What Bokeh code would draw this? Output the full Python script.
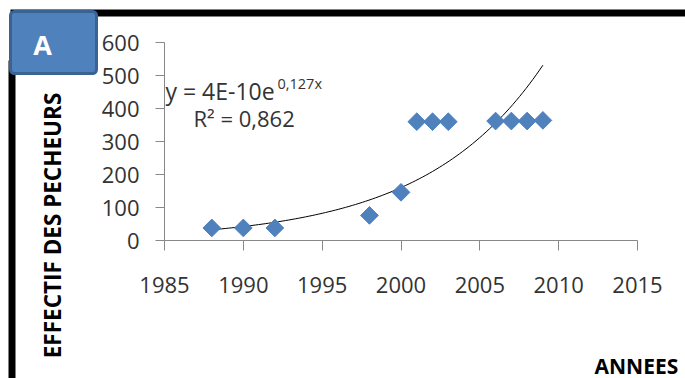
import numpy as np
from bokeh.plotting import figure
from bokeh.models import Range1d, FixedTicker, Label, BoxAnnotation, LinearAxis
from bokeh.embed import file_html
from bokeh.resources import INLINE

# ---- data ----
years = [1988, 1990, 1992, 1998, 2000, 2001, 2002, 2003, 2006, 2007, 2008, 2009]
effectif = [38, 38, 38, 76, 146, 360, 360, 360, 362, 362, 362, 364]
x_ticks = [1985, 1990, 1995, 2000, 2005, 2010, 2015]
y_ticks = [0, 100, 200, 300, 400, 500, 600]
x_tick_labels = ["1985", "1990", "1995", "2000", "2005", "2010", "2015"]
y_tick_labels = ["0", "100", "200", "300", "400", "500", "600"]
eq_main = "y = 4E-10e"
eq_sup = "0,127x"
eq_r2 = "R² = 0,862"
panel_letter = "A"
x_title = "ANNEES"
y_title = "EFFECTIF DES PECHEURS"

# exponential trend (least squares on log values)
slope, icpt = np.polyfit(np.array(years, float) - 2000, np.log(effectif), 1)
trend_x = np.linspace(min(years), max(years), 100)
trend_y = np.exp(icpt + slope * (trend_x - 2000))

# ---- layout: frame = whole canvas; axes drawn at fixed locations ----
W, H = 685, 378
AX_L, AX_R = 164, 637      # pixel positions of 1985 and 2015
AX_B, AX_T = 240, 42       # pixel positions of 0 and 600 (from top)
xs = (AX_R - AX_L) / (x_ticks[-1] - x_ticks[0])
ys = (AX_B - AX_T) / (y_ticks[-1] - y_ticks[0])
x_rng = Range1d(x_ticks[0] - AX_L / xs, x_ticks[0] + (W - AX_L) / xs)
y_rng = Range1d(y_ticks[0] - (H - AX_B) / ys, y_ticks[0] + AX_B / ys)

FONT = "Open Sans"
TXT = "#333333"
AX = "#888888"

p = figure(width=W, height=H, output_backend="svg", toolbar_location=None,
           x_range=x_rng, y_range=y_rng, x_axis_location=None, y_axis_location=None,
           min_border=0)
p.outline_line_color = None
p.grid.visible = False
p.background_fill_color = "white"
p.border_fill_color = "white"

xaxis = LinearAxis(fixed_location=y_ticks[0], bounds=(x_ticks[0], x_ticks[-1]))
yaxis = LinearAxis(fixed_location=x_ticks[0], bounds=(y_ticks[0], y_ticks[-1]))
for ax, ticks, labels in ((xaxis, x_ticks, x_tick_labels), (yaxis, y_ticks, y_tick_labels)):
    ax.ticker = FixedTicker(ticks=ticks)
    ax.major_label_overrides = {t: l for t, l in zip(ticks, labels)}
    ax.axis_line_color = AX
    ax.major_tick_line_color = AX
    ax.minor_tick_line_color = None
    ax.major_tick_in = 0
    ax.major_tick_out = 9
    ax.major_label_text_font = FONT
    ax.major_label_text_font_size = "22px"
    ax.major_label_text_color = TXT
xaxis.major_tick_out = 10
xaxis.major_label_standoff = 26
yaxis.major_label_standoff = 16
p.add_layout(xaxis, "below")
p.add_layout(yaxis, "left")

p.line(trend_x, trend_y, line_color="black", line_width=1)
p.scatter(years, effectif, marker="square", size=12.5, angle=np.pi / 4,
          fill_color="#4F81BD", line_color="#4F81BD")

def sbox(l, r, t, b, **kw):
    # screen box given in picture pixels (top-left origin)
    return BoxAnnotation(left=l, right=r, top=H - t, bottom=H - b,
                         left_units="screen", right_units="screen",
                         top_units="screen", bottom_units="screen", **kw)

p.add_layout(sbox(8, 15, 60, H, fill_color="black", fill_alpha=1, line_color=None))
p.add_layout(sbox(10, W, 9, 16, fill_color="black", fill_alpha=1, line_color=None))
p.add_layout(sbox(10, 96, 11, 73, fill_color="#4F81BD", fill_alpha=1,
                  line_color="#3A6394", line_width=3, line_alpha=1, border_radius=4))

def slabel(x, y, text, **kw):
    # label centred vertically on picture row y
    return Label(x=x, y=H - y, x_units="screen", y_units="screen", text=text,
                 text_font=FONT, text_baseline="middle", **kw)

p.add_layout(slabel(42, 44, panel_letter, text_font_style="bold", text_font_size="27px",
                    text_color="white", text_align="center"))
p.add_layout(slabel(52, 225, y_title, angle=np.pi / 2, text_font_style="bold",
                    text_font_size="22.5px", text_color="black", text_align="center"))
p.add_layout(slabel(594, 365, x_title, text_font_style="bold", text_font_size="21px",
                    text_color="black", text_align="left"))
p.add_layout(slabel(165, 90, eq_main, text_font_size="23px", text_color=TXT,
                    text_align="left"))
p.add_layout(slabel(277, 83, eq_sup, text_font_size="14.5px", text_color=TXT,
                    text_align="left"))
p.add_layout(slabel(193, 117, eq_r2, text_font_size="22px", text_color=TXT,
                    text_align="left"))

open("out.html", "w").write(file_html(p, INLINE))
